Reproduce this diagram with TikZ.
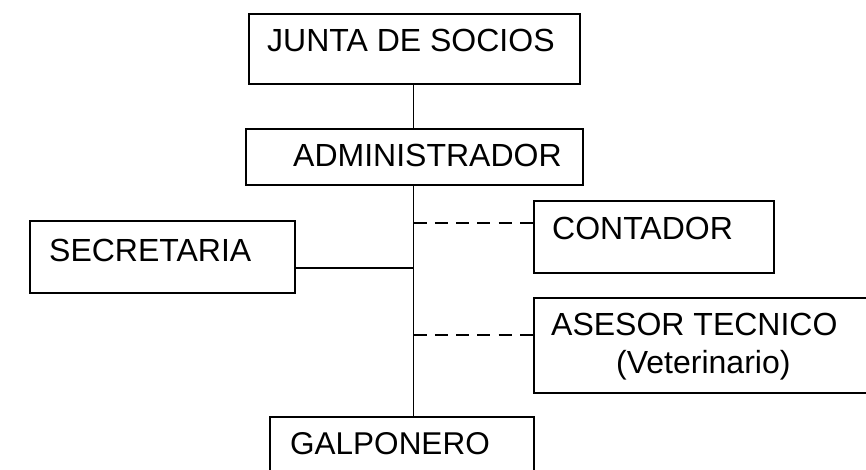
\documentclass[tikz,border=0pt]{standalone}
\usepackage{fontspec}
\setmainfont{Liberation Sans}
\begin{document}
\begin{tikzpicture}[x=1pt,y=-1pt,
  box/.style={draw=black,line width=1.8pt,rectangle,inner sep=0pt},
  lbl/.style={anchor=base west,inner sep=0pt,font=\fontsize{32}{38}\selectfont},
  conn/.style={draw=black,line width=1.8pt},
  dconn/.style={draw=black,line width=1.8pt,dash pattern=on 13pt off 8.3pt}]
\useasboundingbox (0,0) rectangle (866,470);
\clip (0,0) rectangle (866,470);
% boxes
\node[box,minimum width=331pt,minimum height=70pt,anchor=north west] (junta) at (248,13) {};
\node[box,minimum width=337pt,minimum height=56pt,anchor=north west] (admin) at (245,128) {};
\node[box,minimum width=265pt,minimum height=72pt,anchor=north west] (secre) at (29,220) {};
\node[box,minimum width=240pt,minimum height=72pt,anchor=north west] (conta) at (533,200) {};
\node[box,minimum width=347pt,minimum height=95pt,anchor=north west] (asesor) at (533,297) {};
\node[box,minimum width=264pt,minimum height=74pt,anchor=north west] (galpo) at (269,416) {};
% texts
\node[lbl] (juntat) at (267,52) {JUNTA DE SOCIOS};
\node[lbl] (admint) at (293,167) {ADMINISTRADOR};
\node[lbl] (secret) at (49,261) {SECRETARIA};
\node[lbl] (contat) at (552,240) {CONTADOR};
\node[lbl] (asesort) at (551,335) {ASESOR TECNICO};
\node[lbl] (vett) at (616,373) {(Veterinario)};
\node[lbl,font=\fontsize{31.5}{37}\selectfont] (galpot) at (290,454) {GALPONERO};
% connectors
\coordinate (jx) at (413.5,83);
\draw[conn] (junta.south -| jx) -- (admin.north -| jx);
\draw[conn] (admin.south -| jx) -- (galpo.north -| jx);
\coordinate (sj) at (413.5,268);
\draw[conn] (secre.east |- sj) -- (sj);
\coordinate (cj) at (413.5,223);
\draw[dconn] (cj) -- (conta.west |- cj);
\coordinate (aj) at (413.5,335);
\draw[dconn] (aj) -- (asesor.west |- aj);
\end{tikzpicture}
\end{document}
